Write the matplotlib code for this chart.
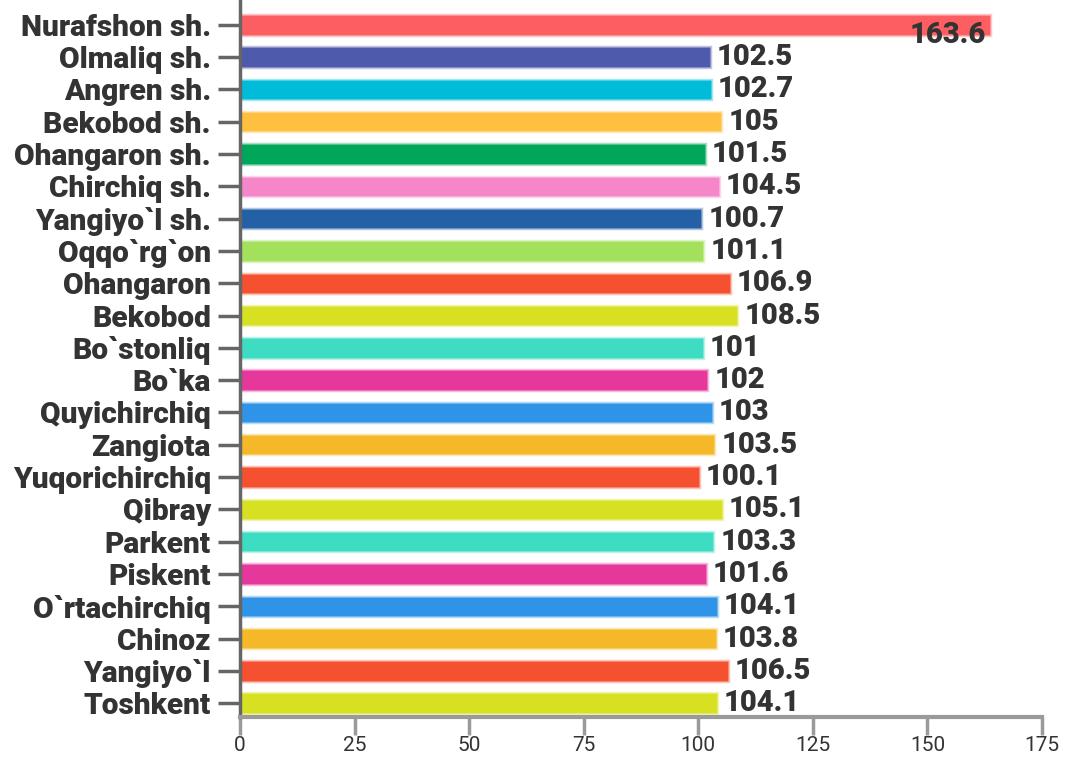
import matplotlib.pyplot as plt
import matplotlib.colors as mcolors

# districts and values (top to bottom)
names = ["Nurafshon sh.", "Olmaliq sh.", "Angren sh.", "Bekobod sh.", "Ohangaron sh.",
         "Chirchiq sh.", "Yangiyo`l sh.", "Oqqo`rg`on", "Ohangaron", "Bekobod",
         "Bo`stonliq", "Bo`ka", "Quyichirchiq", "Zangiota", "Yuqorichirchiq",
         "Qibray", "Parkent", "Piskent", "O`rtachirchiq", "Chinoz", "Yangiyo`l", "Toshkent"]
values = [163.6, 102.5, 102.7, 105, 101.5, 104.5, 100.7, 101.1, 106.9, 108.5,
          101, 102, 103, 103.5, 100.1, 105.1, 103.3, 101.6, 104.1, 103.8, 106.5, 104.1]
value_text = ["163.6", "102.5", "102.7", "105", "101.5", "104.5", "100.7", "101.1", "106.9", "108.5",
              "101", "102", "103", "103.5", "100.1", "105.1", "103.3", "101.6", "104.1", "103.8", "106.5", "104.1"]
colors = ["#FC5E62", "#4E5AAC", "#00BCD9", "#FFC03F", "#00A65A", "#F587C8", "#2360A5",
          "#A3E05C", "#F5502F", "#D7E021", "#3DDCC3", "#E5389A", "#2F93E8", "#F5B829",
          "#F55030", "#D7E021", "#3DDCC3", "#E5389A", "#2F93E8", "#F5B829", "#F55030", "#D7E021"]
xticks = [0, 25, 50, 75, 100, 125, 150, 175]

plt.rcParams['font.family'] = ['Roboto', 'DejaVu Sans']

fig = plt.figure(figsize=(10.73, 7.62), dpi=100)
ax = fig.add_axes([240 / 1073, 1 - 717 / 762, 802 / 1073, 717 / 762])

ypos = list(range(len(names)))
edge = [mcolors.to_rgba(c, 0.35) for c in colors]
ax.barh(ypos, values, height=0.6, color=colors, edgecolor=edge, linewidth=2.5)

for i, (v, t) in enumerate(zip(values, value_text)):
    if v > 150:
        ax.annotate(t, (v, i), xytext=(-3, -7), textcoords='offset points',
                    ha='right', va='center', fontsize=21, fontweight='heavy', color='#333333')
    else:
        ax.annotate(t, (v, i), xytext=(5, 0), textcoords='offset points',
                    ha='left', va='center', fontsize=21, fontweight='heavy', color='#333333')

ax.set_xlim(0, 175)
ax.set_ylim(21.43, -0.77)
ax.set_yticks(ypos)
ax.set_yticklabels(names, fontsize=21.5, fontweight='heavy', color='#333333')
ax.set_xticks(xticks)
ax.set_xticklabels([str(x) for x in xticks], fontsize=15, color='#333333')

for s in ['top', 'right']:
    ax.spines[s].set_visible(False)
ax.spines['left'].set_color('#666666')
ax.spines['left'].set_linewidth(2.5)
ax.spines['bottom'].set_color('#9a9a9a')
ax.spines['bottom'].set_linewidth(3)
ax.tick_params(axis='y', length=16, width=2.5, color='#666666', pad=5)
ax.tick_params(axis='x', length=13, width=2.5, color='#9a9a9a', pad=1)

fig.savefig("out.png", dpi=100)
